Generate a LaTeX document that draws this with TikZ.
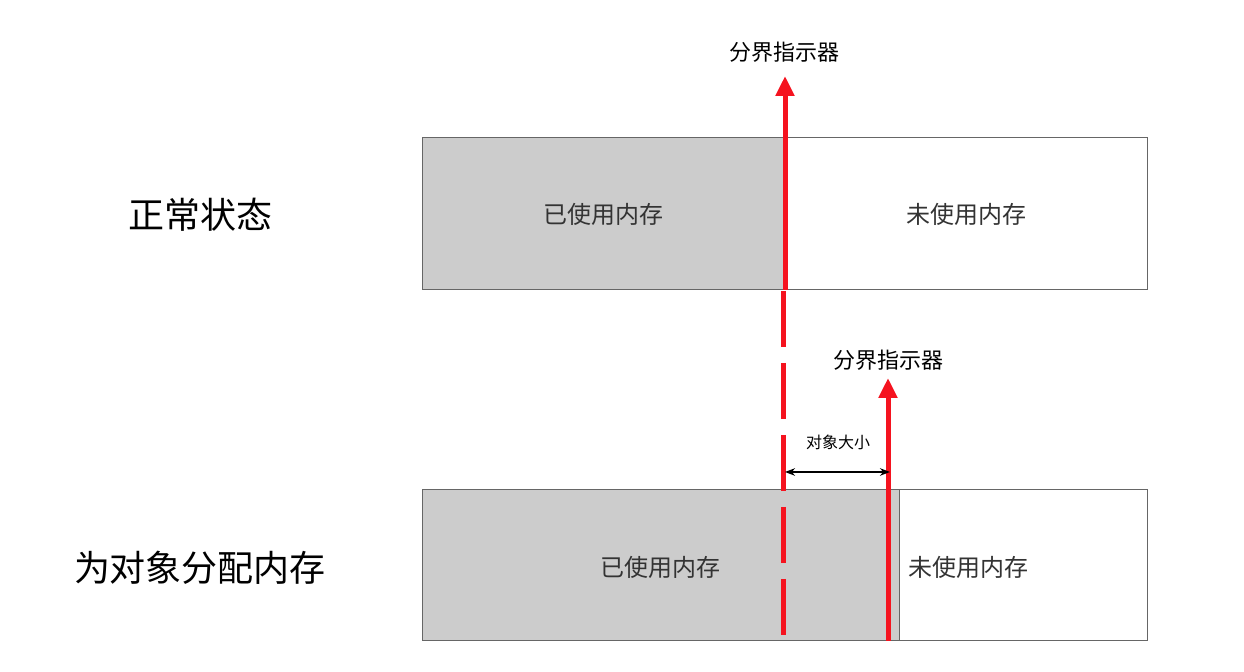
\documentclass[tikz,border=0pt]{standalone}
\usepackage{fontspec}
\newfontfamily\cjk{Noto Sans CJK SC}
\usetikzlibrary{arrows.meta}
\definecolor{memgray}{HTML}{CCCCCC}
\definecolor{ind}{HTML}{F5131F}
\begin{document}
\begin{tikzpicture}[x=0.5pt,y=-0.5pt,font=\cjk,
  used/.style={draw=black!60,fill=memgray,line width=0.5pt},
  free/.style={draw=black!60,fill=white,line width=0.5pt},
  redline/.style={ind,line width=2.5pt},
  lbl/.style={font=\cjk\fontsize{12}{14}\selectfont,text=black!80}]
\useasboundingbox (0,0) rectangle (1244,672);
% top
\draw[used] (422,138) rectangle (785,290);
\draw[free] (785,138) rectangle (1147,290);
\node[lbl] (u1) at (603,214) {已使用内存};
\node[lbl] (f1) at (966,214) {未使用内存};
\node[font=\cjk\fontsize{18}{20}\selectfont] (s1) at (200,215) {正常状态};
\coordinate (b1) at (785,290);
\coordinate (t1) at (785,76);
\draw[redline,-{Triangle[length=10pt,width=9pt]}] (b1) -- (t1);
\node[font=\cjk\fontsize{11}{13}\selectfont] (i1) at (784,52) {分界指示器};
\coordinate (d1) at (783,291);
\coordinate (d2) at (783,645);
% bottom
\draw[used] (422,490) rectangle (899,641);
\draw[free] (899,490) rectangle (1147,641);
\node[lbl] (u2) at (660,567) {已使用内存};
\node[lbl] (f2) at (968,567) {未使用内存};
\node[font=\cjk\fontsize{18}{20}\selectfont] (s2) at (200,568) {为对象分配内存};
\draw[redline,dash pattern=on 28pt off 8pt] (d1) -- (d2);
\coordinate (b2) at (888,641);
\coordinate (t2) at (888,378);
\draw[redline,-{Triangle[length=10pt,width=9pt]}] (b2) -- (t2);
\node[font=\cjk\fontsize{11}{13}\selectfont] (i2) at (888,360) {分界指示器};
\coordinate (a1) at (785,472);
\coordinate (a2) at (890,472);
\draw[line width=1pt,{Stealth[length=5pt]}-{Stealth[length=5pt]}] (a1) -- (a2);
\node[font=\cjk\fontsize{8}{10}\selectfont] (sz) at (838,442) {对象大小};
\end{tikzpicture}
\end{document}
